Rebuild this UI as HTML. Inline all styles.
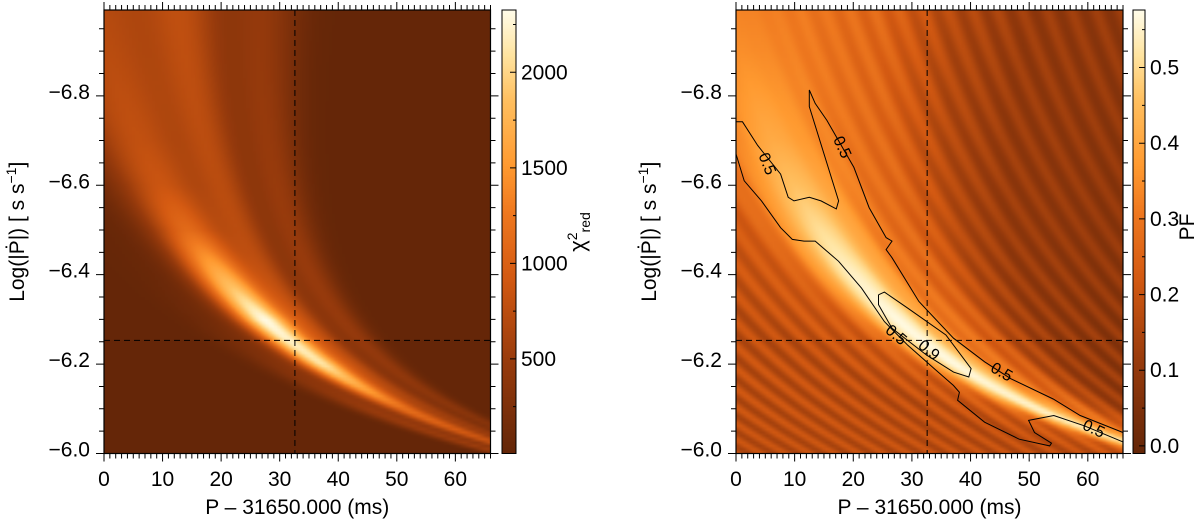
<!DOCTYPE html>
<html><head><meta charset="utf-8">
<style>
html,body{margin:0;padding:0;background:#fff;}
#wrap{position:relative;width:1200px;height:527px;overflow:hidden;font-family:"Liberation Sans",sans-serif;}
canvas{position:absolute;}
svg{position:absolute;left:0;top:0;}
</style></head>
<body>
<div id="wrap">
<canvas id="hmL"></canvas>
<canvas id="hmR"></canvas>
<canvas id="cbL"></canvas>
<canvas id="cbR"></canvas>
<svg id="ov" width="1200" height="527"></svg>
</div>
<script>
// ---- data ----
const xDomain = [0, 66];
const yDomain = [-6.0, -6.992];
const xTickLabels = [0,10,20,30,40,50,60];
const yTickLabels = [-6.8,-6.6,-6.4,-6.2,-6.0];
const chiTicks = [500,1000,1500,2000];
const chiRange = [5, 2326];
const pfTicks = [0.0,0.1,0.2,0.3,0.4,0.5];
const pfRange = [-0.01, 0.576];
const bestP = 32.6;
const bestLogPdot = -6.253;
// ridge shape knots (t = -(logPdot+6))
const tKnots = [0,0.1,0.2,0.3,0.4,0.5,0.6,0.7,0.8,0.9,1.0];
const chiMainAmp = [700,1150,2100,2300,1700,1100,850,780,750,720,700];
const chiBand1Amp = [300,420,520,560,580,580,580,570,560,550,540];
const chiBand2Amp = [250,350,420,450,460,460,460,450,440,430,420];
const chiLowAmp = [500,450,250,100,40,20,0,0,0,0,0];
const chiBandU = [0, 12, 22, -16];
const pfRidgeAmp = [0.22,0.25,0.27,0.27,0.25,0.21,0.16,0.11,0.08,0.05,0.03];
const pfBaseU = [-300,-40,-15,0,10,20,30,40,60,300];
const pfBaseVal = [0.17,0.18,0.22,0.30,0.30,0.26,0.16,0.11,0.09,0.08];
const pfStripeAmp = [0.04,0.045,0.045,0.04,0.035,0.03,0.03,0.03,0.03,0.03,0.03];
const pfStripePeriod = 4.2;
// contours (P offset ms, log Pdot)
const c05UpperX = [0,1.1,3.7,7.6,8.9,9.9,12.5,14.5,17.1,17.5,12.5,12.5,13.5,15.5,20.1,22.7,25.6,26.6,25.6,26.6,31.2,37.1,42.4,46.9,54.1,58.7,66];
const c05UpperY = [-6.742,-6.742,-6.689,-6.625,-6.573,-6.565,-6.573,-6.565,-6.547,-6.565,-6.776,-6.813,-6.783,-6.745,-6.640,-6.550,-6.483,-6.475,-6.456,-6.438,-6.340,-6.258,-6.205,-6.167,-6.122,-6.085,-6.047];
const c05LowerX = [0,1.4,4.35,7.6,9.6,11.6,13.5,17.5,21.4,25.3,29.3,33.8,37.1,38.1,37.8,42.4,48.3,53.5,53.8,50.9,49.9,54.2,59.4,66];
const c05LowerY = [-6.670,-6.610,-6.565,-6.505,-6.479,-6.475,-6.475,-6.430,-6.370,-6.295,-6.242,-6.190,-6.152,-6.137,-6.119,-6.070,-6.032,-6.017,-6.023,-6.047,-6.074,-6.085,-6.062,-6.026];
const c09X = [24.3,25.3,29.3,35.8,40.1,39.7,37.1,32.5,26.6,24.3,24.3];
const c09Y = [-6.355,-6.361,-6.325,-6.265,-6.190,-6.171,-6.182,-6.220,-6.280,-6.333,-6.355];
const cLabelText = ["0.5","0.5","0.5","0.9","0.5","0.5"];
const cLabelX = [5.3,18.1,27.3,32.9,45.3,61.0];
const cLabelY = [-6.648,-6.685,-6.265,-6.231,-6.182,-6.055];
const cLabelRot = [68,65,40,40,30,25];

// ---- geometry ----
const Y0=10, Y1=453.5;
const panels = {L:{x0:104,x1:490.5}, R:{x0:736,x1:1123}};
function sx(p,v){return p.x0+(v-xDomain[0])/(xDomain[1]-xDomain[0])*(p.x1-p.x0);}
function sy(v){return Y1+(v-yDomain[0])/(yDomain[1]-yDomain[0])*(Y0-Y1);}
function interp(ks,vs,t){if(t<=ks[0])return vs[0];for(let i=1;i<ks.length;i++){if(t<=ks[i]){const f=(t-ks[i-1])/(ks[i]-ks[i-1]);return vs[i-1]+f*(vs[i]-vs[i-1]);}}return vs[vs.length-1];}
const cmK=[0,0.2,0.4,0.55,0.65,0.8,0.9,1];
const cmC=[[100,38,8],[150,58,12],[212,90,18],[240,122,32],[255,154,48],[255,192,96],[255,228,160],[255,252,232]];
function cmap(n){n=Math.max(0,Math.min(1,n));for(let i=1;i<cmK.length;i++){if(n<=cmK[i]){const f=(n-cmK[i-1])/(cmK[i]-cmK[i-1]);return cmC[i-1].map((c,j)=>c+f*(cmC[i][j]-c));}}return cmC[cmC.length-1];}
function ridgeX(t){return 39.07/(t+0.3786)-30.15;}
function stripeX(t){return 87.5/(t+0.8);}
function g(x,s){return Math.exp(-x*x/(2*s*s));}
function chiVal(P,L){const t=-(L+6);const u=(P-ridgeX(t))/(t+0.3);
  const sMain=5.5+Math.max(0,t-0.45)*4;
  return 10+interp(tKnots,chiMainAmp,t)*g(u-chiBandU[0],sMain)+interp(tKnots,chiBand1Amp,t)*g(u-chiBandU[1],3.5)+interp(tKnots,chiBand2Amp,t)*g(u-chiBandU[2],3.5)+interp(tKnots,chiLowAmp,t)*g(u-chiBandU[3],5);}
function pfVal(P,L){const t=-(L+6);const w=P-ridgeX(t);const u=w/(t+0.3);
  const base=interp(pfBaseU,pfBaseVal,u);
  const ws=P-stripeX(t);
  const stripe=interp(tKnots,pfStripeAmp,t)*Math.cos(2*Math.PI*ws/pfStripePeriod)*(1-g(u,9));
  return base+interp(tKnots,pfRidgeAmp,t)*g(u,6)+stripe;}
function drawHeat(id,p,fn,range){
  const c=document.getElementById(id);const NX=118,NY=134;c.width=NX;c.height=NY;
  c.style.left=p.x0+'px';c.style.top=Y0+'px';c.style.width=(p.x1-p.x0)+'px';c.style.height=(Y1-Y0)+'px';
  const ctx=c.getContext('2d');const im=ctx.createImageData(NX,NY);
  for(let j=0;j<NY;j++)for(let i=0;i<NX;i++){
    const P=xDomain[0]+(i+0.5)/NX*(xDomain[1]-xDomain[0]);
    const L=yDomain[1]+(j+0.5)/NY*(yDomain[0]-yDomain[1]);
    const col=cmap((fn(P,L)-range[0])/(range[1]-range[0]));const k=(j*NX+i)*4;
    im.data[k]=col[0];im.data[k+1]=col[1];im.data[k+2]=col[2];im.data[k+3]=255;}
  ctx.putImageData(im,0,0);}
drawHeat('hmL',panels.L,chiVal,chiRange);
drawHeat('hmR',panels.R,pfVal,pfRange);
function drawCB(id,x0,x1){const c=document.getElementById(id);c.width=1;c.height=200;
  c.style.left=x0+'px';c.style.top=Y0+'px';c.style.width=(x1-x0)+'px';c.style.height=(Y1-Y0)+'px';
  const ctx=c.getContext('2d');for(let j=0;j<200;j++){const col=cmap(1-j/199);ctx.fillStyle=`rgb(${col.map(Math.round).join(',')})`;ctx.fillRect(0,j,1,1);}}
const cbL={x0:502,x1:516}, cbR={x0:1133,x1:1145};
drawCB('cbL',cbL.x0,cbL.x1);drawCB('cbR',cbR.x0,cbR.x1);

// ---- svg overlay ----
const NS='http://www.w3.org/2000/svg';const ov=document.getElementById('ov');
function mk(tag,attrs,parent){const e=document.createElementNS(NS,tag);for(const k in attrs)e.setAttribute(k,attrs[k]);(parent||ov).appendChild(e);return e;}
function txt(s,x,y,attrs,parent){const e=mk('text',Object.assign({x:x,y:y,'font-size':21,fill:'#000','font-family':'Liberation Sans, sans-serif'},attrs||{}),parent);e.textContent=s;return e;}
function axes(key,p){
  const grp=mk('g',{});
  
  
  const fr=mk('rect',{x:p.x0,y:Y0,width:p.x1-p.x0,height:Y1-Y0,fill:'none',stroke:'#000','stroke-width':1.2},grp);
  
  
  let d='';
  for(let v=0;v<=66;v++){const x=sx(p,v);const L=(v%10===0)?8:5;d+=`M${x},${Y1}v${L}M${x},${Y0}v${-L}`;}
  for(let k=0;k<=19;k++){const v=-6.0-k*0.05;const y=sy(v);if(y<Y0-0.5)break;const L=(k%4===0)?8:5;d+=`M${p.x0},${y}h${-L}M${p.x1},${y}h${L}`;}
  const tk=mk('path',{d:d,stroke:'#000','stroke-width':1,fill:'none'},grp);
  
  
  xTickLabels.forEach(v=>{const t=txt(String(v),sx(p,v),486,{'text-anchor':'middle'},grp);
    
    });
  yTickLabels.forEach(v=>{const t=txt('\u2212'+Math.abs(v).toFixed(1),p.x0-14,sy(v)+3,{'text-anchor':'end'},grp);
    
    });
  const xt=txt('P \u2013 31650.000 (ms)',(p.x0+p.x1)/2,514,{'text-anchor':'middle'},grp);
  
  
  const yx=p.x0-80, yc=(Y0+Y1)/2;
  const yt=mk('text',{x:yx,y:yc,'font-size':21,'text-anchor':'middle','font-family':'Liberation Sans, sans-serif',transform:`rotate(-90 ${yx} ${yc})`},grp);
  
  
  yt.innerHTML='Log(|P\u0307|) [ s s<tspan dy="-8" font-size="14">\u22121</tspan><tspan dy="8">]</tspan>';
  const dl=mk('path',{d:`M${sx(p,bestP)},${Y0}V${Y1}M${p.x0},${sy(bestLogPdot)}H${p.x1}`,stroke:'#000','stroke-width':1,'stroke-dasharray':'6,4',fill:'none'},grp);
  
  
}
axes('chi2',panels.L);axes('pf',panels.R);
function colorbar(key,cb,ticks,range,fmt){
  const grp=mk('g',{});
  
  
  mk('rect',{x:cb.x0,y:Y0,width:cb.x1-cb.x0,height:Y1-Y0,fill:'none',stroke:'#000','stroke-width':1},grp);
  const cy=v=>Y1+(v-range[0])/(range[1]-range[0])*(Y0-Y1);
  let d='';
  const step=(ticks[1]-ticks[0])/2;
  for(let v=ticks[0]-step*4;v<=range[1];v+=step){if(v<range[0])continue;const y=cy(v);const major=ticks.some(t=>Math.abs(t-v)<step*0.01);d+=`M${cb.x1},${y}h${major?-6:-3}`;}
  mk('path',{d:d,stroke:'#000','stroke-width':1},grp);
  ticks.forEach(v=>{const t=txt(fmt(v),cb.x1+5,cy(v)+7,{'text-anchor':'start'},grp);
    
    });
  return grp;
}
const g1=colorbar('chi2',cbL,chiTicks,chiRange,v=>String(v));
const t1=mk('text',{x:585,y:232,'font-size':22,'text-anchor':'middle','font-family':'Liberation Sans, sans-serif',transform:'rotate(-90 585 232)'},g1);


t1.innerHTML='\u03c7<tspan dy="-8" font-size="14">2</tspan><tspan dy="13" font-size="14">red</tspan>';
const g2=colorbar('pf',cbR,pfTicks,pfRange,v=>v.toFixed(1));
const t2=txt('PF',1194,227,{'text-anchor':'middle',transform:'rotate(-90 1194 227)'},g2);


// contours
function poly(xs,ys,name){const p=panels.R;const d=xs.map((v,i)=>(i?'L':'M')+sx(p,v).toFixed(1)+','+sy(ys[i]).toFixed(1)).join('');
  const e=mk('path',{d:d,stroke:'#000','stroke-width':1,fill:'none'});
  
  }
poly(c05UpperX,c05UpperY,'contour-0.5-upper');
poly(c05LowerX,c05LowerY,'contour-0.5-lower');
poly(c09X,c09Y,'contour-0.9');
cLabelText.forEach((s,i)=>{const x=sx(panels.R,cLabelX[i]),y=sy(cLabelY[i]);
  const t=txt(s,x,y+5,{'font-size':16,'text-anchor':'middle',transform:`rotate(${cLabelRot[i]} ${x} ${y})`});
  
  });
</script>
</body></html>
